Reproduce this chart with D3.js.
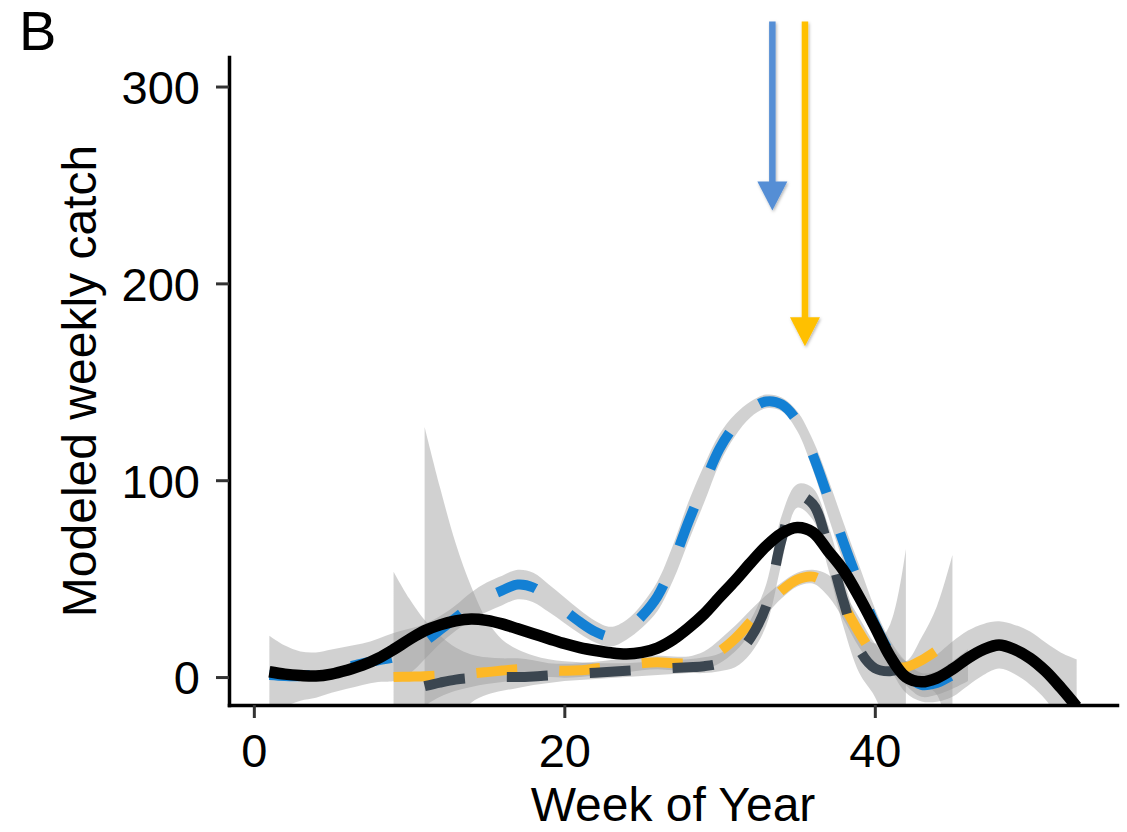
<!DOCTYPE html>
<html>
<head>
<meta charset="utf-8">
<script src="https://cdn.jsdelivr.net/npm/d3@7"></script>
<style>
    body { margin: 0; background: #ffffff; }
    svg { display: block; font-family: "Liberation Sans", Arial, sans-serif; }
</style>
</head>
<body>
<div id="chart"></div>
<script>
const WIDTH = 1127;
const HEIGHT = 832;
const MARGIN = { top: 57, right: 10, bottom: 127, left: 229 };
const INNER_WIDTH = WIDTH - MARGIN.left - MARGIN.right;
const INNER_HEIGHT = HEIGHT - MARGIN.top - MARGIN.bottom;

// week of year
const weeks = [1, 2, 3, 4, 5, 6, 7, 8, 9, 10, 11, 12, 13, 14, 15, 16, 17, 18, 19, 20,
    21, 22, 23, 24, 25, 26, 27, 28, 29, 30, 31, 32, 33, 34, 35, 36, 37, 38, 39, 40,
    41, 42, 43, 44, 45, 46, 47, 48, 49, 50, 51, 52, 53];

// blue series, weeks 1-46
const blueFit = [1, 0.5, 0.5, 1.5, 3, 5, 7, 8.5, 10, 13, 18, 24, 30, 36, 40.5, 44, 47, 45.5, 40, 34,
    28, 23, 20.5, 24, 31, 41, 58, 79, 98, 116, 128, 136, 140, 138.5, 130, 113, 91, 68, 47, 27,
    12, 2, -4, -3, 1, 6];
const blueLow = [-19, -15, -12, -10.5, -8, -6, -4, -2.5, -2, 1.5, 9, 17, 23.5, 29, 33, 36.5, 39.5, 38, 33, 27.5,
    22, 17.5, 15.5, 19, 25, 33.5, 49, 69, 88.5, 108.5, 122.5, 132, 136.5, 135, 125, 105.5, 81.5, 58, 37.5, 19,
    5.5, -4, -10, -9, -6, -2];
const blueHigh = [21, 16, 13, 12.5, 14, 15.5, 17, 19.5, 22.4, 24.5, 27, 31, 36.5, 43, 48, 51.5, 54.5, 53, 47, 40.5,
    34, 28.5, 25.5, 29, 37, 48.5, 67, 89, 107.5, 123.5, 133.5, 140, 143.5, 142, 135, 120.5, 100.5, 78, 56.5, 35,
    18.5, 8, 2, 3, 8, 14];

// orange series, weeks 9-45
const orangeFit = [0, 0.2, 0.4, 0.8, 1.3, 1.8, 2.5, 3.3, 4, 4, 3.5, 3.2, 3.4, 4.3, 5.2, 6, 7, 7.5, 7, 7,
    8.5, 13, 19.5, 28, 36.5, 44, 49.5, 51, 46.5, 36, 22.5, 11, 5.5, 5, 8.5, 13.5, 19];
const orangeLow = [-40, -25, -15, -10, -7, -5, -3.5, -2.5, -1.5, -1, 0, -0.3, 0, 0.8, 1.7, 2.5, 3.5, 4, 3.5, 3.5,
    4, 7, 13, 22, 31.5, 40, 46, 47.5, 41, 29, 15, 5, 2, 2, -3, -9, -40];
const orangeHigh = [53.5, 40, 29, 21, 15, 11.5, 10, 9.5, 9.5, 8.5, 7, 6.7, 7, 7.8, 8.7, 9.5, 10.5, 11, 10.5, 10.5,
    13, 19, 26, 34, 41.5, 48, 53, 54.5, 52, 43, 30, 17, 9, 8, 20, 36, 62];

// dark grey series, weeks 11-42
const greyFit = [-4.6, -2.8, -1.3, -0.5, 0, 0, 0, 0.3, 0.8, 1.3, 1.8, 2.2, 2.7, 3.2, 3.7, 4.2, 4.6, 5, 5.5, 7,
    11, 20, 36, 70, 92, 88, 66, 38, 14, 4.5, 3, 5];
const greyLow = [-60, -40, -22, -13, -9, -7, -5.5, -4, -3, -2, -1.5, -1, -0.5, 0, 0.5, 1, 1.5, 2, 2, 3,
    5, 12, 26, 58, 86, 80, 55, 25, 2, -10, -30, -60];
const greyHigh = [127, 96, 68, 46, 29, 19, 14, 11, 9, 8, 7.5, 7, 7, 7, 7.5, 8, 8.5, 9, 10, 12,
    17, 29, 47, 82, 98, 96, 77, 50, 26, 17, 27, 65];

// black series (all), weeks 1-53
const blackFit = [2.7, 1.5, 0.8, 0.5, 1.5, 3.5, 6, 9.5, 14, 19, 23.5, 26.5, 28.5, 29.5, 28.8, 27, 24.5, 22, 19.5, 17,
    15, 13.5, 12.3, 11.7, 12.5, 14.7, 19, 25, 32, 40.6, 49, 58, 66.5, 73, 76, 73.6, 64, 54, 40.5, 25.6,
    10.3, 0, -2.4, -0.5, 4, 9.6, 14, 16.3, 14, 9.6, 3, -5.6, -15];
const blackLow = [0.2, -1, -1.7, -2, -1, 1, 3.5, 7, 11.5, 16.5, 21, 24, 26, 27, 26.3, 24.5, 22, 19.5, 17, 14.5,
    12.5, 11, 9.8, 9.2, 10, 12.2, 16.5, 22.5, 29.5, 38.1, 46.5, 55.5, 64, 70.5, 73.5, 71.1, 61.5, 51.5, 37.5, 21.6,
    4.3, -8, -12.4, -12.5, -10, -4.4, 1, 4.3, 1.5, -3.9, -11.5, -23.6, -39];
const blackHigh = [5.2, 4, 3.3, 3, 4, 6, 8.5, 12, 16.5, 21.5, 26, 29, 31, 32, 31.3, 29.5, 27, 24.5, 22, 19.5,
    17.5, 16, 14.8, 14.2, 15, 17.2, 21.5, 27.5, 34.5, 43.1, 51.5, 60.5, 69, 75.5, 78.5, 76.1, 66.5, 56.5, 43.5, 29.6,
    16.3, 8, 7.6, 11.5, 18, 23.6, 27, 28.3, 26.5, 23.1, 17.5, 12.4, 9];

// peak arrows (week, tip value), all start at arrowTop
const arrowWeeks = [33.4, 35.5];
const arrowTips = [237, 168];
const arrowTop = 333;
const arrowColors = ['#558ed5', '#ffc000'];

const xTicks = [0, 20, 40];
const yTicks = [0, 100, 200, 300];

function buildSeries(startWeek, fit, low, high) {
    const start = weeks.indexOf(startWeek);
    return fit.map((v, i) => ({ week: weeks[start + i], fit: v, low: low[i], high: high[i] }));
}

const seriesList = [
    { name: 'blue', data: buildSeries(1, blueFit, blueLow, blueHigh), color: '#1380d4', dash: '41,42', width: 10 },
    { name: 'orange', data: buildSeries(9, orangeFit, orangeLow, orangeHigh), color: '#fdb827', dash: '41,42', width: 10 },
    { name: 'grey', data: buildSeries(11, greyFit, greyLow, greyHigh), color: '#3b4650', dash: '41,42', width: 10 },
    { name: 'black', data: buildSeries(1, blackFit, blackLow, blackHigh), color: '#000000', dash: null, width: 11.5 }
];

const xScale = d3.scaleLinear().domain([-1.6, 55.6]).range([0, INNER_WIDTH]);
const yScale = d3.scaleLinear().domain([-14.2, 315]).range([INNER_HEIGHT, 0]);

const svg = d3.select('#chart')
    .append('svg')
    .attr('width', WIDTH)
    .attr('height', HEIGHT)
    .attr('viewBox', `0 0 ${WIDTH} ${HEIGHT}`);

const defs = svg.append('defs');
defs.append('clipPath')
    .attr('id', 'panel-clip')
    .append('rect')
    .attr('x', 0)
    .attr('y', 0)
    .attr('width', INNER_WIDTH)
    .attr('height', INNER_HEIGHT);

defs.append('filter')
    .attr('id', 'arrow-shadow')
    .attr('x', '-50%').attr('y', '-10%')
    .attr('width', '200%').attr('height', '120%')
    .append('feDropShadow')
    .attr('dx', 1).attr('dy', 1.5)
    .attr('stdDeviation', 1.5)
    .attr('flood-color', '#000')
    .attr('flood-opacity', 0.3);

const inner = svg.append('g')
    .attr('transform', `translate(${MARGIN.left},${MARGIN.top})`);

const panel = inner.append('g').attr('clip-path', 'url(#panel-clip)');

const curve = d3.curveCatmullRom.alpha(0.5);

const area = d3.area()
    .x(d => xScale(d.week))
    .y0(d => yScale(d.low))
    .y1(d => yScale(d.high))
    .curve(curve);

const line = d3.line()
    .x(d => xScale(d.week))
    .y(d => yScale(d.fit))
    .curve(curve);

// confidence ribbons
seriesList.forEach(s => {
    panel.append('path')
        .datum(s.data)
        .attr('d', area)
        .attr('fill', '#999999')
        .attr('fill-opacity', 0.45);
});

// fitted lines
seriesList.forEach(s => {
    panel.append('path')
        .datum(s.data)
        .attr('d', line)
        .attr('fill', 'none')
        .attr('stroke', s.color)
        .attr('stroke-width', s.width)
        .attr('stroke-dasharray', s.dash)
        .attr('stroke-linecap', 'butt')
        .attr('stroke-linejoin', 'round');
});

// axes
const xAxis = d3.axisBottom(xScale).tickValues(xTicks).tickSize(13).tickSizeOuter(0).tickPadding(16);
const yAxis = d3.axisLeft(yScale).tickValues(yTicks).tickSize(13).tickSizeOuter(0).tickPadding(16);

const xAxisG = inner.append('g')
    .attr('transform', `translate(0,${INNER_HEIGHT})`)
    .call(xAxis);

const yAxisG = inner.append('g').call(yAxis);

[xAxisG, yAxisG].forEach(g => {
    g.select('.domain')
        .attr('stroke', '#000')
        .attr('stroke-width', 3.5)
        .attr('stroke-linecap', 'square');
    g.selectAll('.tick line')
        .attr('stroke', '#333333')
        .attr('stroke-width', 3);
    g.selectAll('.tick text')
        .attr('fill', '#000')
        .style('font-size', '47px')
        .style('font-family', '"Liberation Sans", Arial, sans-serif');
});
yAxisG.selectAll('.tick text').attr('dy', '0.36em');

inner.append('text')
    .attr('x', INNER_WIDTH / 2)
    .attr('y', INNER_HEIGHT + 116)
    .attr('text-anchor', 'middle')
    .style('font-size', '48px')
    .text('Week of Year');

inner.append('text')
    .attr('transform', 'rotate(-90)')
    .attr('x', -INNER_HEIGHT / 2)
    .attr('y', -133)
    .attr('text-anchor', 'middle')
    .style('font-size', '48px')
    .text('Modeled weekly catch');

// arrows marking the peaks
arrowWeeks.forEach((w, i) => {
    const ax = xScale(w);
    const tipY = yScale(arrowTips[i]);
    const topY = yScale(arrowTop);
    const headLen = 29;
    const headHalf = 15;
    const arrow = inner.append('g').attr('filter', 'url(#arrow-shadow)');
    arrow.append('line')
        .attr('x1', ax).attr('x2', ax)
        .attr('y1', topY).attr('y2', tipY - headLen + 1)
        .attr('stroke', arrowColors[i])
        .attr('stroke-width', 6.5);
    arrow.append('path')
        .attr('d', `M${ax - headHalf},${tipY - headLen}L${ax + headHalf},${tipY - headLen}L${ax},${tipY}Z`)
        .attr('fill', arrowColors[i]);
});

svg.append('text')
    .attr('x', 19)
    .attr('y', 50)
    .style('font-size', '56px')
    .text('B');
</script>
</body>
</html>
